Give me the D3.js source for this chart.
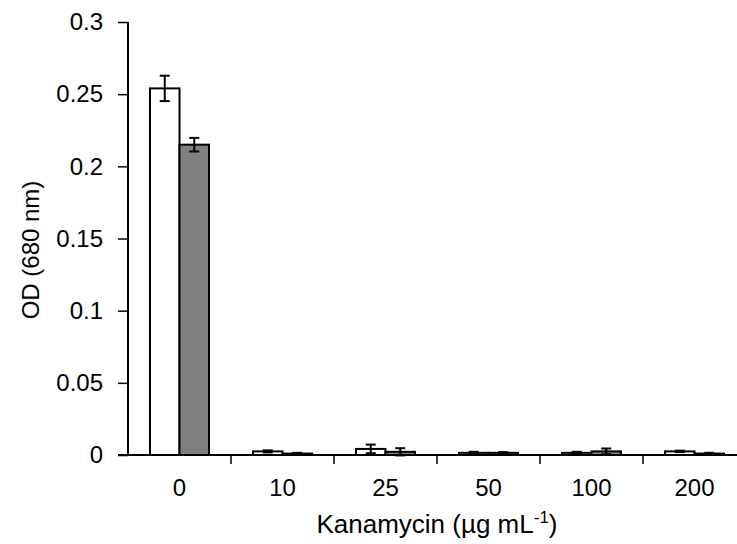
<!DOCTYPE html>
<html>
<head>
<meta charset="utf-8">
<script src="https://cdn.jsdelivr.net/npm/d3@7"></script>
<style>
  body { margin: 0; background: #fff; }
  text { font-family: "Liberation Sans", Arial, sans-serif; fill: #000; }
</style>
</head>
<body>
<div id="chart"></div>
<script>
// data
var doses = ["0", "10", "25", "50", "100", "200"];
var whiteVals = [0.254, 0.0025, 0.0042, 0.0015, 0.0015, 0.0025];
var whiteErr = [0.0088, 0.0007, 0.003, 0.0007, 0.0007, 0.0005];
var greyVals = [0.215, 0.001, 0.0022, 0.0015, 0.0025, 0.001];
var greyErr = [0.0047, 0.0005, 0.0025, 0.0005, 0.002, 0.0005];
var yTicks = [0, 0.05, 0.1, 0.15, 0.2, 0.25, 0.3];

var width = 737,
    height = 544,
    axis_left = 128,
    axis_right = 746,
    axis_top = 22,
    axis_bottom = 455,
    bar_w = 29.5,
    font_size = 24;

var svg = d3.select("#chart").append("svg")
    .attr("width", width)
    .attr("height", height);

var x = d3.scaleBand()
    .domain(doses)
    .range([axis_left, axis_right]);
var y = d3.scaleLinear()
    .domain([0, 0.3])
    .range([axis_bottom, axis_top]);

var series = [
    {vals: whiteVals, err: whiteErr, fill: "#ffffff", off: -bar_w},
    {vals: greyVals, err: greyErr, fill: "#808080", off: 0}
];

// bars
series.forEach(s => {
    var g = svg.append("g");
    g.selectAll("rect")
        .data(doses)
        .enter().append("rect")
            .attr("x", d => x(d) + x.bandwidth() / 2 + s.off)
            .attr("y", (d, i) => y(s.vals[i]))
            .attr("width", bar_w)
            .attr("height", (d, i) => y(0) - y(s.vals[i]))
            .attr("fill", s.fill)
            .attr("stroke", "#000")
            .attr("stroke-width", 2);
});

// error bars
series.forEach(s => {
    var g = svg.append("g")
        .attr("stroke", "#000")
        .attr("stroke-width", 2);
    doses.forEach((d, i) => {
        var cx = x(d) + x.bandwidth() / 2 + s.off + bar_w / 2;
        var lo = y(s.vals[i] - s.err[i]),
            hi = y(s.vals[i] + s.err[i]);
        g.append("line").attr("x1", cx).attr("x2", cx).attr("y1", lo).attr("y2", hi);
        g.append("line").attr("x1", cx - 5).attr("x2", cx + 5).attr("y1", lo).attr("y2", lo);
        g.append("line").attr("x1", cx - 5).attr("x2", cx + 5).attr("y1", hi).attr("y2", hi);
    });
});

// y axis
var yAxis = d3.axisLeft(y)
    .tickValues(yTicks)
    .tickSize(10)
    .tickPadding(15)
    .tickFormat(d3.format("~g"));
var gy = svg.append("g")
    .attr("transform", "translate(" + axis_left + ",0)")
    .call(yAxis);
gy.attr("font-size", font_size).attr("font-family", null);
gy.select(".domain").attr("stroke-width", 2).attr("d", "M0," + axis_top + "V" + axis_bottom);
gy.selectAll(".tick line").attr("stroke-width", 1.5);

// x axis, ticks between categories
var xAxisLine = svg.append("g");
xAxisLine.append("line")
    .attr("x1", axis_left - 10).attr("x2", axis_right)
    .attr("y1", axis_bottom).attr("y2", axis_bottom)
    .attr("stroke", "#000").attr("stroke-width", 2);
xAxisLine.selectAll(".sep")
    .data(doses.slice(1))
    .enter().append("line")
        .attr("x1", d => x(d)).attr("x2", d => x(d))
        .attr("y1", axis_bottom).attr("y2", axis_bottom + 9)
        .attr("stroke", "#000").attr("stroke-width", 1.5);
xAxisLine.selectAll(".lab")
    .data(doses)
    .enter().append("text")
        .attr("x", d => x(d) + x.bandwidth() / 2)
        .attr("y", 496)
        .attr("text-anchor", "middle")
        .attr("font-size", font_size)
        .text(d => d);

// titles
svg.append("text")
    .attr("transform", "translate(39,250) rotate(-90)")
    .attr("text-anchor", "middle")
    .attr("font-size", font_size)
    .text("OD (680 nm)");
var xt = svg.append("text")
    .attr("x", 437)
    .attr("y", 533)
    .attr("text-anchor", "middle")
    .attr("font-size", 26);
xt.append("tspan").text("Kanamycin (µg mL");
xt.append("tspan").attr("font-size", 17).attr("dy", -10).text("-1");
xt.append("tspan").attr("dy", 10).text(")");
</script>
</body>
</html>
